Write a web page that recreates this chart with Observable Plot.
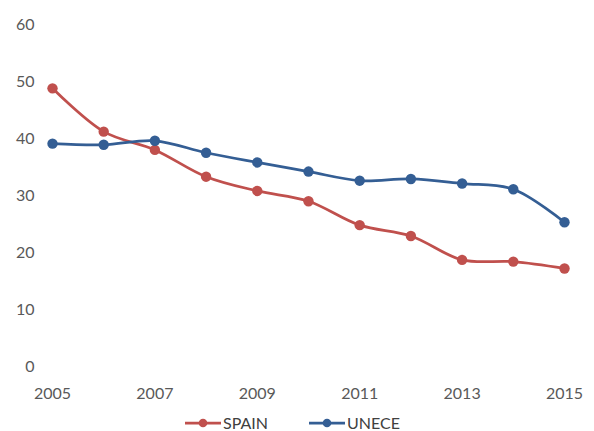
<!DOCTYPE html>
<html>
<head>
<meta charset="utf-8">
<script src="https://cdn.jsdelivr.net/npm/d3@7"></script>
<script src="https://cdn.jsdelivr.net/npm/@observablehq/plot@0.6"></script>
<style>
  html, body { margin: 0; padding: 0; background: #fff; }
  #chart { width: 594px; font-family: Lato, "Open Sans", sans-serif; }
  #legend { display: block; }
</style>
</head>
<body>
<div id="chart"></div>
<script>
const years = [2005, 2006, 2007, 2008, 2009, 2010, 2011, 2012, 2013, 2014, 2015];
const spain = [48.8, 41.2, 38.0, 33.3, 30.8, 29.0, 24.8, 22.9, 18.7, 18.4, 17.2];
const unece = [39.1, 38.9, 39.6, 37.5, 35.8, 34.2, 32.6, 32.9, 32.1, 31.1, 25.3];
const seriesNames = ["SPAIN", "UNECE"];
const seriesColors = ["#C0504D", "#345E94"];
const xTicks = [2005, 2007, 2009, 2011, 2013, 2015];
const yTicks = [0, 10, 20, 30, 40, 50, 60];

const data = [];
years.forEach((y, i) => {
  data.push({year: y, value: spain[i], series: seriesNames[0]});
  data.push({year: y, value: unece[i], series: seriesNames[1]});
});

const plot = Plot.plot({
  width: 594,
  height: 405,
  marginLeft: 52,
  marginRight: 30,
  marginTop: 24,
  marginBottom: 39,
  style: {fontFamily: "Lato, 'Open Sans', sans-serif", fontSize: "16px", color: "#595959", background: "#fff"},
  x: {domain: [2005, 2015], ticks: xTicks, tickFormat: d => String(d), label: null},
  y: {domain: [0, 60], ticks: yTicks, label: null},
  color: {domain: seriesNames, range: seriesColors},
  marks: [
    Plot.axisX({ticks: xTicks, tickFormat: d => String(d), tickSize: 0, tickPadding: 21, fontSize: 16, fill: "#595959", label: null}),
    Plot.axisY({ticks: yTicks, tickSize: 0, tickPadding: 18, fontSize: 16, fill: "#595959", label: null}),
    Plot.line(data, {x: "year", y: "value", z: "series", stroke: "series", strokeWidth: 2.75, curve: "catmull-rom"}),
    Plot.dot(data, {x: "year", y: "value", fill: "series", r: 5.2})
  ]
});
document.getElementById("chart").appendChild(plot);

// Legend
const legendSvg = d3.select("#chart").append("svg")
  .attr("id", "legend")
  .attr("width", 594)
  .attr("height", 26)
  .style("font-family", "Lato, 'Open Sans', sans-serif")
  .style("font-size", "16px");
const itemX = [185, 309];
seriesNames.forEach((name, i) => {
  const g = legendSvg.append("g").attr("transform", `translate(${itemX[i]},18)`);
  g.append("line").attr("x1", 0).attr("x2", 36).attr("y1", 0).attr("y2", 0)
    .attr("stroke", seriesColors[i]).attr("stroke-width", 2.75);
  g.append("circle").attr("cx", 18).attr("cy", 0).attr("r", 4.3).attr("fill", seriesColors[i]);
  g.append("text").attr("x", 38).attr("y", 0).attr("dy", "0.35em")
    .attr("fill", "#404040").text(name);
});
</script>
</body>
</html>
